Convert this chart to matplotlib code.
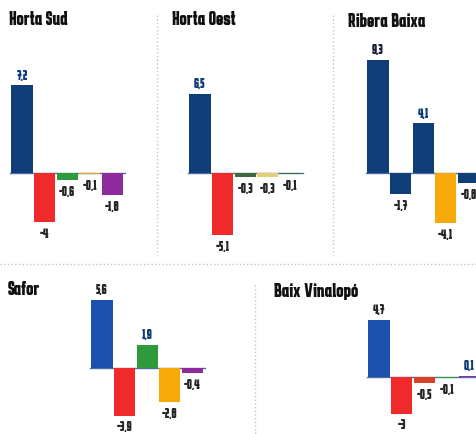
import matplotlib.pyplot as plt
import matplotlib.patheffects as pe
from matplotlib import font_manager as fm
from matplotlib.font_manager import FontProperties

W, H = 476, 434

# change in points, by party, per comarca
titles = ["Horta Sud", "Horta Oest", "Ribera Baixa", "Safor", "Baix Vinalopó"]
horta_sud = [7.2, -4, -0.6, -0.1, -1.8]
horta_oest = [6.5, -5.1, -0.3, -0.3, -0.1]
ribera_baixa = [9.3, -1.7, 4.1, -4.1, -0.8]
safor = [5.6, -3.9, 1.9, -2.8, -0.4]
baix_vinalopo = [4.7, -3, -0.5, -0.1, 0.1]

NAVY = '#0f3d78'
BLUE = '#1c50ad'
RED = '#f02a2a'
GREEN = '#2f9a3c'
ORANGE = '#f7a90a'
PURPLE = '#8d2b9c'
DKGREEN = '#3f6a3f'
DARK = '#262626'

# (values, bar colours, first bar centre px, baseline px, title px, label colour of positives)
panels = [
    (horta_sud, [NAVY, RED, GREEN, ORANGE, PURPLE], 22, 173, (9, 11), [NAVY]),
    (horta_oest, [NAVY, RED, DKGREEN, '#e3cf73', DKGREEN], 200, 173, (172, 11), [NAVY]),
    (ribera_baixa, [NAVY, NAVY, NAVY, ORANGE, NAVY], 378, 173, (348, 13), ['#15203a', '#15203a', NAVY]),
    (safor, [BLUE, RED, GREEN, ORANGE, PURPLE], 102, 368, (8, 281), [DARK]),
    (baix_vinalopo, [BLUE, RED, '#d8402a', GREEN, PURPLE], 379, 377, (274, 283), [DARK]),
]

PITCH = 22.6   # px between bars
SCALE = 12.2   # px per point

fig = plt.figure(figsize=(W / 100, H / 100), dpi=100)
rend = fig.canvas.get_renderer()


def wnum(w):
    return w if isinstance(w, (int, float)) else fm.weight_dict.get(w, 400)


def metrics(s, prop):
    w, h, d = rend.get_text_width_height_descent(s, prop, ismath=False)
    return w, h


# the paper uses a heavy condensed grotesque: look for the face whose
# width/cap-height ratio is closest to the printed one, preferring bold
skip = ('Mono', 'Serif', 'Code', 'CJK', 'Math', 'Symbol', 'Emoji')
faces = [f for f in fm.fontManager.ttflist
         if f.style == 'normal' and f.fname.lower().endswith(('.ttf', '.otf'))
         and not any(k in f.name or k in f.fname for k in skip)]


def score(f):
    p = FontProperties(fname=f.fname, size=10)
    w, _ = metrics("Horta Sud", p)
    _, h = metrics("H", p)
    wt = wnum(f.weight)
    pen = 0 if wt >= 650 else (0.4 if wt >= 500 else 1.0)
    return abs(w / max(h, 1) - 4.2) + pen


best = min(faces, key=score) if faces else None
if best is not None:
    FP = FontProperties(fname=best.fname, size=10)
    heavy = wnum(best.weight) >= 600
else:
    FP = FontProperties(family='DejaVu Sans', weight='bold', size=10)
    heavy = True

CAP10 = metrics("H", FP)[1]


def sized(cap_px):
    p = FP.copy()
    p.set_size(10 * cap_px / CAP10)
    return p


def fx(color, lw):
    return [] if heavy else [pe.withStroke(linewidth=lw, foreground=color)]


lab_fp = sized(10.5)
tit_fp = sized(14)

for (vals, cols, x0, base, tpos, poscol), title in zip(panels, titles):
    ax = fig.add_axes([0, 0, 1, 1])
    ax.set_xlim(-x0 / PITCH, (W - x0) / PITCH)
    ax.set_ylim((base - H) / SCALE, base / SCALE)
    ax.axis('off')
    ax.patch.set_alpha(0)
    xs = list(range(len(vals)))
    ax.bar(xs, vals, width=0.93, color=cols, zorder=2)
    ax.plot([-0.55, len(vals) - 0.45], [0, 0], color='#4d6fa3', lw=1, zorder=1)
    for i, v in enumerate(vals):
        txt = f"{v:g}".replace('.', ',')
        if v > 0:
            c = poscol[i] if i < len(poscol) else NAVY
            ax.annotate(txt, (i, v), xytext=(0, 2.5), textcoords='offset points',
                        ha='center', va='bottom', fontproperties=lab_fp, color=c,
                        path_effects=fx(c, 0.5))
        else:
            ax.annotate(txt, (i, v), xytext=(0, -3.5), textcoords='offset points',
                        ha='center', va='top', fontproperties=lab_fp, color=DARK,
                        path_effects=fx(DARK, 0.5))
    fig.text(tpos[0] / W, 1 - tpos[1] / H, title, ha='left', va='top',
             fontproperties=tit_fp, color='#111111', path_effects=fx('#111111', 0.7))

# dotted separators
sep = dict(color='#c4c4c4', lw=1, ls=':', transform=None)
fig.add_artist(plt.Line2D([157, 157], [H - 15, H - 255], **sep))
fig.add_artist(plt.Line2D([333, 333], [H - 15, H - 255], **sep))
fig.add_artist(plt.Line2D([0, W], [H - 264, H - 264], **sep))
fig.add_artist(plt.Line2D([255, 255], [H - 285, 0], **sep))

fig.savefig('out.png', dpi=100, facecolor='white')
